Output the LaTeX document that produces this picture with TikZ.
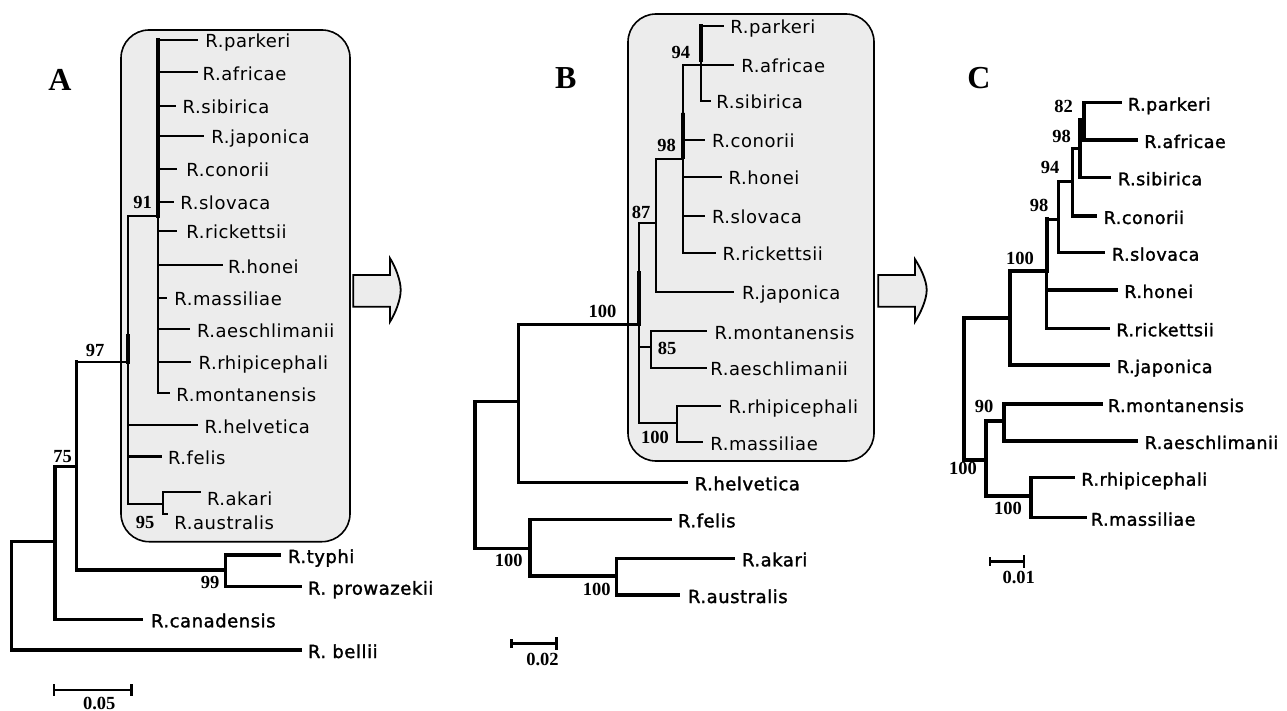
\documentclass[tikz,border=0pt]{standalone}
\usepackage{fontspec}
\setmainfont{Liberation Serif}
\newfontfamily\labfont{DejaVu Sans}[LetterSpace=3]
\newfontfamily\labfontb{DejaVu Sans}[FakeBold=1.6,LetterSpace=3]
\definecolor{boxgray}{RGB}{236,236,236}
\tikzset{
 tb/.style={line width=2.1pt},
 ob/.style={line width=3.3pt},
 kb/.style={line width=4.3pt},
 lab/.style={font=\labfont\fontsize{18}{20}\selectfont, inner sep=0pt, anchor=base west},
 labb/.style={font=\labfontb\fontsize{18}{20}\selectfont, inner sep=0pt, anchor=base west},
 labc/.style={font=\labfontb\fontsize{17.5}{20}\selectfont, inner sep=0pt, anchor=base west},
 bs/.style={font=\bfseries\fontsize{18.5}{20}\selectfont, inner sep=0pt},
 panel/.style={font=\bfseries\fontsize{32}{34}\selectfont, inner sep=0pt},
 cladebox/.style={draw, line width=1.6pt, fill=boxgray, rounded corners=28pt},
 blockarrow/.style={draw, line width=1.8pt, fill=boxgray, line join=miter},
 scalebar/.style={line width=2.8pt},
}
\newcommand\tleaf[8][tb]{%
  \coordinate (#3) at (#5,#6);
  \draw[#1] (#4 |- #3) -- (#3);
  \node[#2] (#3-t) at ({#7-1.5},{#6+8}) {#8};
}
\begin{document}
\begin{tikzpicture}[x=1pt,y=-1pt,line cap=rect]
\useasboundingbox (0,0) rectangle (1287,711);
\fill[white] (0,0) rectangle (1287,711);

% clade boxes and arrows
\draw[cladebox] (121,30) rectangle (350,541.7);
\draw[cladebox] (628,14) rectangle (874,461);
\draw[blockarrow] (353.3,275) -- (390,275) -- (390,258.3) .. controls (395,266) and (400.7,280) .. (400.7,290) .. controls (400.7,300) and (395,314) .. (390,321.7) -- (390,306.7) -- (353.3,306.7) -- cycle;
\draw[blockarrow] (878.3,275) -- (915,275) -- (915,259.3) .. controls (920,267) and (926.7,280) .. (926.7,290) .. controls (926.7,300) and (920,314) .. (915,321.7) -- (915,306.7) -- (878.3,306.7) -- cycle;

% panel letters
\node[panel] (pA) at (60,80.3) {A};
\node[panel] (pB) at (565.8,78.3) {B};
\node[panel] (pC) at (979,78.3) {C};

% ================= Panel A =================
\coordinate (aRoot) at (11.7,541.7);
\coordinate (aN1) at (55,541.7);
\coordinate (aN2) at (76.7,466.7);
\coordinate (aN3) at (128.3,361.7);
\coordinate (aN4) at (158.3,216.3);
\coordinate (aN5) at (163.3,504);
\coordinate (aN6) at (225.7,570);

\tleaf{lab}{a-parkeri}{aN4}{196.7}{40}{206.7}{R.parkeri}
\tleaf{lab}{a-africae}{aN4}{196.7}{72.3}{204}{R.africae}
\tleaf{lab}{a-sibirica}{aN4}{175}{105.7}{184}{R.sibirica}
\tleaf{lab}{a-japonica}{aN4}{202.7}{136}{212.7}{R.japonica}
\tleaf{lab}{a-conorii}{aN4}{175.7}{169}{187.7}{R.conorii}
\tleaf{lab}{a-slovaca}{aN4}{173}{202}{181.7}{R.slovaca}
\tleaf{lab}{a-rickettsii}{aN4}{175.7}{231}{187.7}{R.rickettsii}
\tleaf{lab}{a-honei}{aN4}{221.7}{265}{229.3}{R.honei}
\tleaf{lab}{a-massiliae}{aN4}{165.7}{297.7}{175.7}{R.massiliae}
\tleaf{lab}{a-aeschlimanii}{aN4}{189}{329}{198.3}{R.aeschlimanii}
\tleaf{lab}{a-rhipicephali}{aN4}{190}{361.7}{200}{R.rhipicephali}
\tleaf{lab}{a-montanensis}{aN4}{169.3}{393.3}{177.7}{R.montanensis}
\tleaf{lab}{a-helvetica}{aN3}{196.7}{425}{206}{R.helvetica}
\tleaf[ob]{lab}{a-felis}{aN3}{160}{456.7}{169.3}{R.felis}
\coordinate (a-akari) at (200,491.7);
\draw[tb] (aN5 |- a-akari) -- (a-akari);
\node[lab] (a-akari-t) at (206.8,505) {R.akari};
\coordinate (a-australis) at (166.7,514.3);
\draw[tb] (aN5 |- a-australis) -- (a-australis);
\node[lab] (a-australis-t) at (174.2,529) {R.australis};
\tleaf[ob]{labb}{a-typhi}{aN6}{279.3}{555}{289.3}{R.typhi}
\tleaf[ob]{labb}{a-prowazekii}{aN6}{300}{586.7}{309.3}{R. prowazekii}
\tleaf[ob]{labb}{a-canadensis}{aN1}{141.7}{619.3}{152.3}{R.canadensis}
\tleaf[ob]{labb}{a-bellii}{aRoot}{300}{650}{309.3}{R. bellii}

\draw[ob] (aRoot) -- (aRoot |- a-bellii);
\draw[ob] (aRoot) -- (aN1);
\draw[ob] (aN1 |- aN2) -- (aN1 |- a-canadensis);
\draw[ob] (aN1 |- aN2) -- (aN2);
\draw[ob] (aN2 |- aN3) -- (aN2 |- aN6);
\draw[tb] (aN2 |- aN3) -- (aN3);
\draw[ob] (aN2 |- aN6) -- (aN6);
\draw[tb] (aN3 |- aN4) -- (aN3 |- aN5);
\draw[kb] (aN3) -- ++(0,-26);
\draw[tb] (aN3 |- aN4) -- (aN4);
\draw[tb] (aN4 |- a-parkeri) -- (aN4 |- a-montanensis);
\draw[kb] (aN4 |- a-parkeri) -- (aN4);
\draw[tb] (aN5 |- a-akari) -- (aN5 |- a-australis);
\draw[tb] (aN3 |- aN5) -- (aN5);
\draw[ob] (aN6 |- a-typhi) -- (aN6 |- a-prowazekii);

\node[bs] (a-bs91) at (142.5,202.7) {91};
\node[bs] (a-bs97) at (95,350) {97};
\node[bs] (a-bs75) at (62.5,456.7) {75};
\node[bs] (a-bs95) at (145,522) {95};
\node[bs] (a-bs99) at (210,582.7) {99};

\coordinate (sa1) at (54,690);
\coordinate (sa2) at (131.7,690);
\draw[scalebar] (sa1) -- (sa2);
\draw[scalebar] ([yshift=5]sa1) -- ([yshift=-5]sa1);
\draw[scalebar] ([yshift=5]sa2) -- ([yshift=-5]sa2);
\node[bs] (sa-t) at (99.2,703.3) {0.05};

% ================= Panel B =================
\coordinate (bRoot) at (475,401.7);
\coordinate (bN1) at (518.3,401.7);
\coordinate (bN2) at (639.3,324.3);
\coordinate (bN3) at (655.7,223.3);
\coordinate (bN4) at (683.3,159.3);
\coordinate (bN5) at (701,65);
\coordinate (bN6) at (651,346.7);
\coordinate (bN7) at (676.7,422.7);
\coordinate (bN8) at (530,548.3);
\coordinate (bN9) at (616.7,576);

\tleaf{lab}{b-parkeri}{bN5}{723.3}{26}{731.7}{R.parkeri}
\tleaf{lab}{b-africae}{bN5}{733.3}{65}{742.7}{R.africae}
\tleaf{lab}{b-sibirica}{bN5}{710}{101}{717.7}{R.sibirica}
\tleaf{lab}{b-conorii}{bN4}{704.3}{140}{713.3}{R.conorii}
\tleaf{lab}{b-honei}{bN4}{720.7}{176.7}{730}{R.honei}
\tleaf{lab}{b-slovaca}{bN4}{704.3}{216}{713.3}{R.slovaca}
\tleaf{lab}{b-rickettsii}{bN4}{715}{252.7}{724}{R.rickettsii}
\tleaf{lab}{b-japonica}{bN3}{733.3}{291.7}{743.3}{R.japonica}
\tleaf{lab}{b-montanensis}{bN6}{706}{331}{716}{R.montanensis}
\tleaf{lab}{b-aeschlimanii}{bN6}{706}{367.7}{711.7}{R.aeschlimanii}
\tleaf{lab}{b-rhipicephali}{bN7}{720}{405.7}{730}{R.rhipicephali}
\tleaf{lab}{b-massiliae}{bN7}{701.7}{442.3}{711.7}{R.massiliae}
\tleaf[ob]{labb}{b-helvetica}{bN1}{686.7}{482.3}{696}{R.helvetica}
\tleaf[ob]{labb}{b-felis}{bN8}{670}{519.3}{679.3}{R.felis}
\tleaf[ob]{labb}{b-akari}{bN9}{733.3}{558.3}{743.3}{R.akari}
\tleaf[ob]{labb}{b-australis}{bN9}{678.3}{595}{689.3}{R.australis}

\draw[ob] (bRoot) -- (bRoot |- bN8);
\draw[ob] (bRoot) -- (bN1);
\draw[ob] (bRoot |- bN8) -- (bN8);
\draw[ob] (bN1 |- bN2) -- (bN1 |- b-helvetica);
\draw[ob] (bN1 |- bN2) -- (bN2);
\draw[tb] (bN2 |- bN3) -- (bN2 |- bN7);
\draw[kb] (bN2) -- ++(0,-51);
\draw[tb] (bN2 |- bN3) -- (bN3);
\draw[tb] (bN2 |- bN6) -- (bN6);
\draw[tb] (bN2 |- bN7) -- (bN7);
\draw[tb] (bN3 |- bN4) -- (bN3 |- b-japonica);
\draw[tb] (bN3 |- bN4) -- (bN4);
\draw[tb] (bN4 |- bN5) -- (bN4 |- b-rickettsii);
\draw[kb] (bN4 |- b-conorii) -- ++(0,-27) -- ++(0,44);
\draw[tb] (bN4 |- bN5) -- (bN5);
\draw[tb] (bN5 |- b-parkeri) -- (bN5 |- b-sibirica);
\draw[kb] (bN5 |- b-parkeri) -- ++(0,34);
\draw[tb] (bN6 |- b-montanensis) -- (bN6 |- b-aeschlimanii);
\draw[tb] (bN7 |- b-rhipicephali) -- (bN7 |- b-massiliae);
\draw[ob] (bN8 |- b-felis) -- (bN8 |- bN9);
\draw[ob] (bN8 |- bN9) -- (bN9);
\draw[ob] (bN9 |- b-akari) -- (bN9 |- b-australis);

\node[bs] (b-bs94) at (680.8,52.7) {94};
\node[bs] (b-bs98) at (666.7,145) {98};
\node[bs] (b-bs87) at (641,212.7) {87};
\node[bs] (b-bs100a) at (602.5,311.7) {100};
\node[bs] (b-bs85) at (667,348) {85};
\node[bs] (b-bs100b) at (655,437.3) {100};
\node[bs] (b-bs100c) at (508.8,560) {100};
\node[bs] (b-bs100d) at (596.7,589.3) {100};

\coordinate (sb1) at (511.7,643.3);
\coordinate (sb2) at (556.7,643.3);
\draw[scalebar] (sb1) -- (sb2);
\draw[scalebar] ([yshift=3]sb1) -- ([yshift=-3]sb1);
\draw[scalebar] ([yshift=5]sb2) -- ([yshift=-5]sb2);
\node[bs] (sb-t) at (542.5,659.3) {0.02};

% ================= Panel C =================
\coordinate (cRoot) at (964,318.3);
\coordinate (cN1) at (1010,318.3);
\coordinate (cN2) at (1046.7,271);
\coordinate (cN3) at (1058.3,219.3);
\coordinate (cN4) at (1072.3,181.7);
\coordinate (cN5) at (1080,148.3);
\coordinate (cN6) at (1084,120);
\coordinate (cN7) at (986,460);
\coordinate (cN8) at (1004,421);
\coordinate (cN9) at (1031,496);

\tleaf[ob]{labc}{c-parkeri}{cN6}{1120}{102.7}{1129.3}{R.parkeri}
\tleaf[ob]{labc}{c-africae}{cN6}{1136}{140}{1145.7}{R.africae}
\tleaf[ob]{labc}{c-sibirica}{cN5}{1109.3}{177.3}{1119.3}{R.sibirica}
\tleaf[ob]{labc}{c-conorii}{cN4}{1095}{216}{1105}{R.conorii}
\tleaf[ob]{labc}{c-slovaca}{cN3}{1103.3}{252.7}{1113.3}{R.slovaca}
\tleaf[ob]{labc}{c-honei}{cN2}{1116.7}{290}{1125.7}{R.honei}
\tleaf[ob]{labc}{c-rickettsii}{cN2}{1108.3}{328.3}{1117.7}{R.rickettsii}
\tleaf[ob]{labc}{c-japonica}{cN1}{1108.3}{365}{1118.3}{R.japonica}
\tleaf[ob]{labc}{c-montanensis}{cN8}{1101.7}{404}{1109.3}{R.montanensis}
\tleaf[ob]{labc}{c-aeschlimanii}{cN8}{1136.7}{441}{1146}{R.aeschlimanii}
\tleaf[ob]{labc}{c-rhipicephali}{cN9}{1073.3}{477.7}{1082.7}{R.rhipicephali}
\tleaf[ob]{labc}{c-massiliae}{cN9}{1085.7}{517.7}{1092.3}{R.massiliae}

\draw[kb] (cRoot) -- (cRoot |- cN7);
\draw[kb] (cRoot) -- (cN1);
\draw[ob] (cRoot |- cN7) -- (cN7);
\draw[ob] (cN1 |- cN2) -- (cN1 |- c-japonica);
\draw[ob] (cN1 |- cN2) -- (cN2);
\draw[kb] (cN2 |- cN3) -- (cN2);
\draw[ob] (cN2) -- (cN2 |- c-rickettsii);
\draw[ob] (cN2 |- cN3) -- (cN3);
\draw[ob] (cN3 |- cN4) -- (cN3 |- c-slovaca);
\draw[ob] (cN3 |- cN4) -- (cN4);
\draw[ob] (cN4 |- cN5) -- (cN4 |- c-conorii);
\draw[ob] (cN4 |- cN5) -- (cN5);
\draw[ob] (cN5 |- cN6) -- (cN5 |- c-sibirica);
\draw[ob] (cN5 |- cN6) -- (cN6);
\draw[ob] (cN6 |- c-parkeri) -- (cN6 |- c-africae);
\draw[ob] (cN7 |- cN8) -- (cN7 |- cN9);
\draw[ob] (cN7 |- cN8) -- (cN8);
\draw[ob] (cN7 |- cN9) -- (cN9);
\draw[ob] (cN8 |- c-montanensis) -- (cN8 |- c-aeschlimanii);
\draw[ob] (cN9 |- c-rhipicephali) -- (cN9 |- c-massiliae);

\node[bs] (c-bs82) at (1063.7,106.7) {82};
\node[bs] (c-bs98a) at (1061.7,136.7) {98};
\node[bs] (c-bs94) at (1050,167.3) {94};
\node[bs] (c-bs98b) at (1039.2,205) {98};
\node[bs] (c-bs100a) at (1020,258.3) {100};
\node[bs] (c-bs90) at (984.2,406.7) {90};
\node[bs] (c-bs100b) at (963,468.3) {100};
\node[bs] (c-bs100c) at (1008,508.3) {100};

\coordinate (sc1) at (990,561.7);
\coordinate (sc2) at (1024,561.7);
\draw[scalebar] (sc1) -- (sc2);
\draw[scalebar] ([yshift=3]sc1) -- ([yshift=-3]sc1);
\draw[scalebar] ([yshift=5]sc2) -- ([yshift=-5]sc2);
\node[bs] (sc-t) at (1018.7,577.3) {0.01};
\end{tikzpicture}
\end{document}
